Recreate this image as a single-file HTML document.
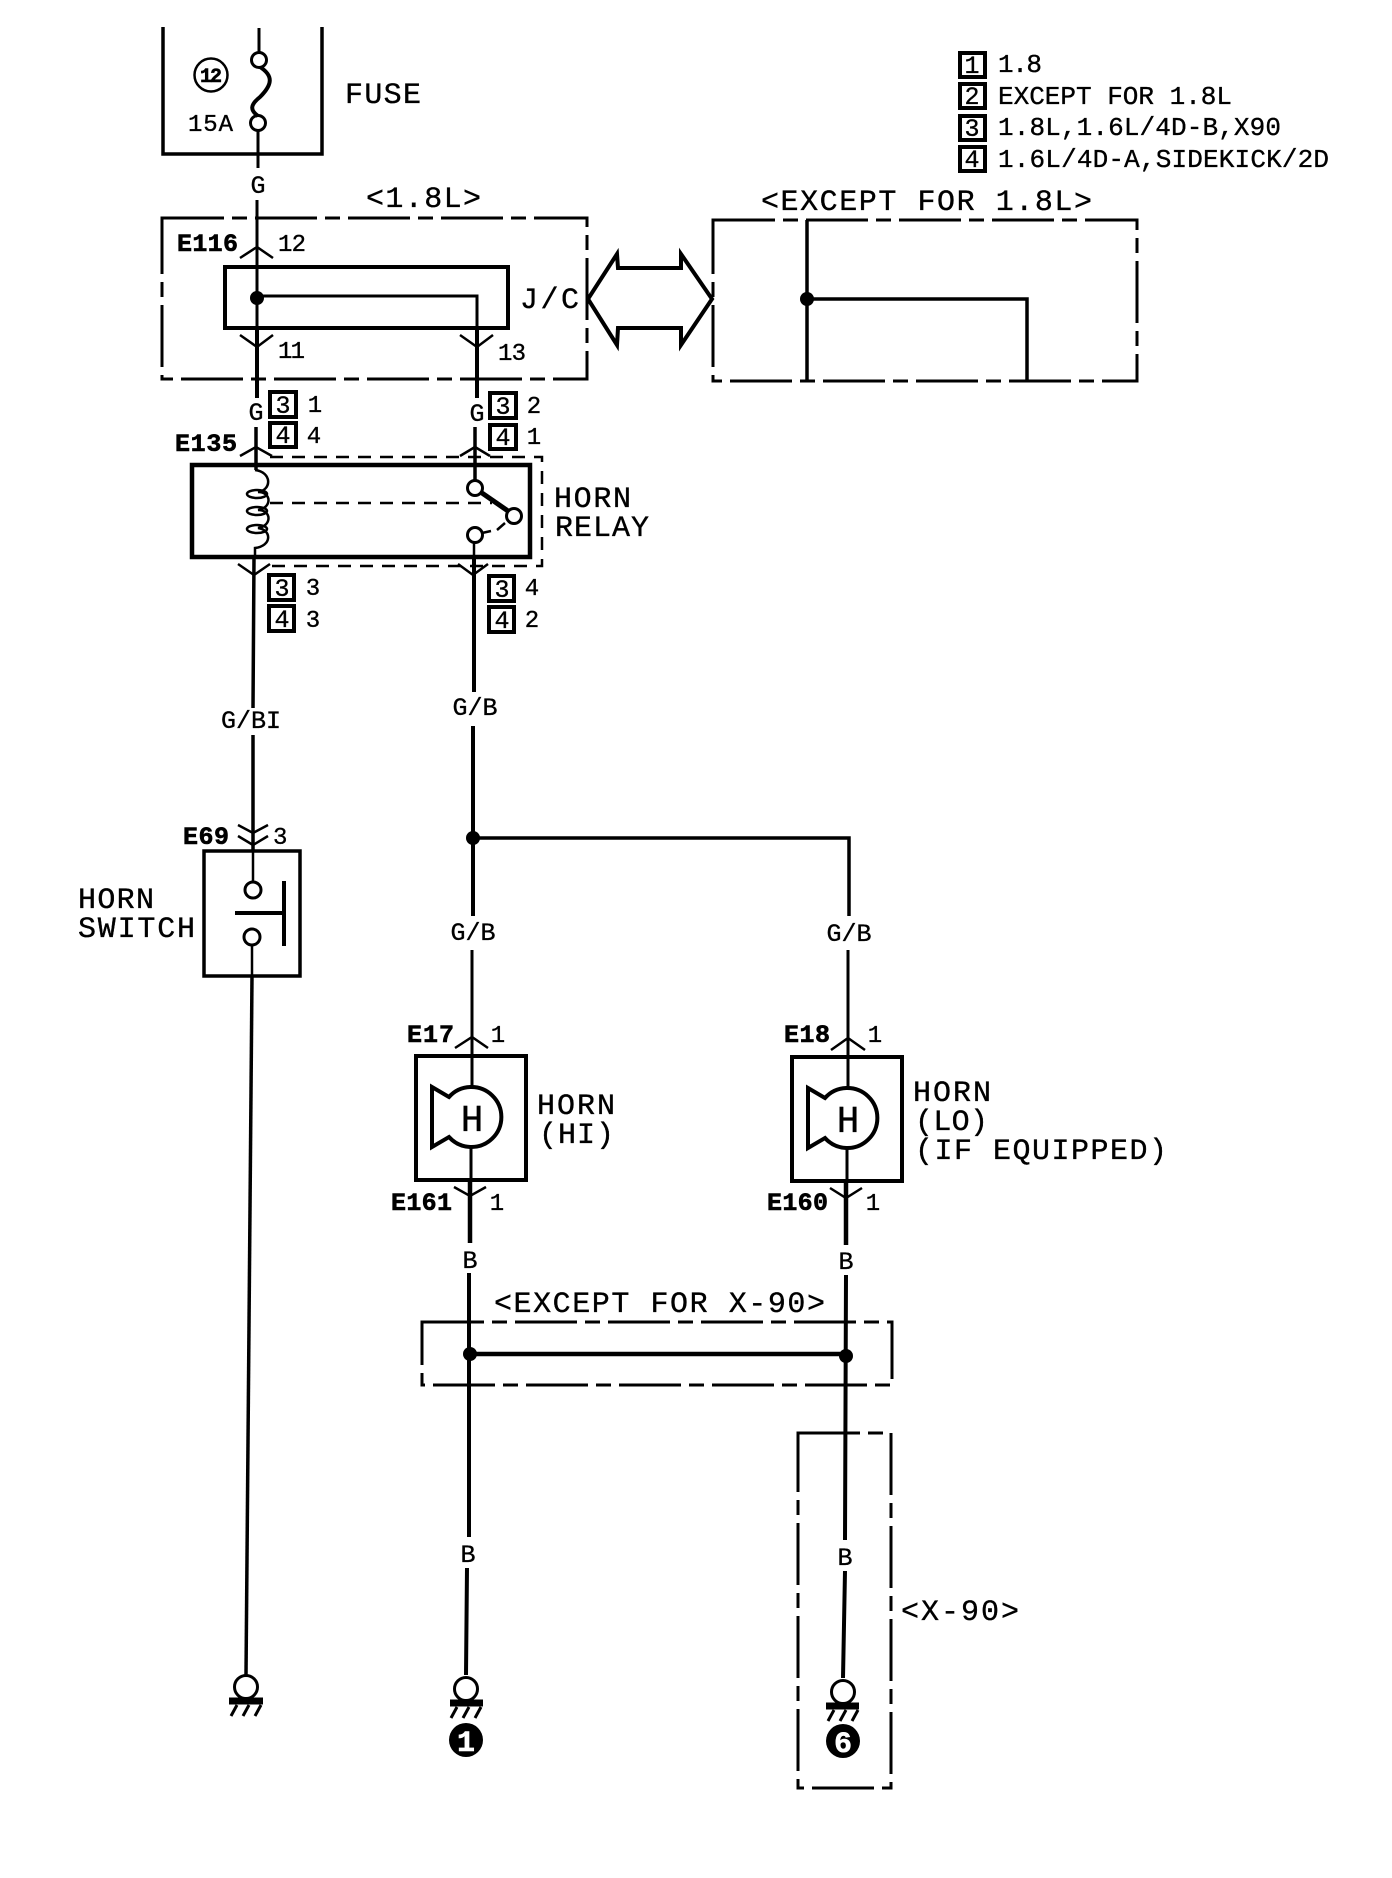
<!DOCTYPE html>
<html>
<head>
<meta charset="utf-8">
<style>
html,body{margin:0;padding:0;background:#fff}
svg{display:block}
text{font-family:"Liberation Mono",monospace;fill:#000;stroke:#000;stroke-width:.35}
.b{font-weight:bold;stroke-width:.6}
.m{text-anchor:middle}
</style>
</head>
<body>
<svg width="1392" height="1878" viewBox="0 0 1392 1878" xmlns="http://www.w3.org/2000/svg">
<rect width="1392" height="1878" fill="#fff"/>

<g fill="none" stroke="#000" stroke-width="3">
<!-- fuse -->
<path d="M163,27 V154 H322 V27" stroke-width="3.5"/>
<path d="M259,28 V53 M258,131 V168"/>
<circle cx="259" cy="60" r="7.5"/>
<circle cx="258" cy="123" r="7.5"/>
<path d="M260,67 C274,76 272,85 260,97 C250,105 250,110 258,116" stroke-width="4"/>
<circle cx="211" cy="75" r="16.5" stroke-width="2.5"/>

<!-- dash boxes -->
<g stroke-dasharray="62 8 15 8" stroke-width="3">
<rect x="162" y="218" width="425" height="161"/>
<rect x="713" y="220" width="424" height="161"/>
<rect x="422" y="1322" width="470" height="63"/>
<rect x="798" y="1433" width="93" height="355"/>
</g>

<!-- J/C -->
<rect x="225" y="267" width="283" height="61" stroke-width="4"/>
<path d="M257,200 V330" stroke-width="3"/>
<path d="M257,296 H477 V330" stroke-width="3"/>
<path d="M257,330 V398 M477,330 V398" stroke-width="4"/>
<path d="M240,258 L257,247 L273,258 M240,335 L257,347 L273,335 M460,335 L477,347 L493,335" stroke-width="2.5"/>

<!-- double arrow -->
<path d="M588,299 L617,254 L618,268 H681 L681,254 L712,299 L681,345 L681,328 H618 L617,345 Z" stroke-width="4"/>

<!-- except wiring -->
<path d="M807,220 V381 M807,299 H1027 V381" stroke-width="3.5"/>

<!-- relay -->
<rect x="192" y="465" width="338" height="92" stroke-width="4.5"/>
<path d="M270,457 H542 V566 H270" stroke-dasharray="13 9" stroke-width="2.5"/>
<path d="M256,427 V470 M475,427 V481" stroke-width="3.5"/>
<path d="M255,470 C272,472 272,490 258,492 C272,492 272,508 258,510 C272,510 272,526 258,528 C272,530 272,546 255,548 V557" stroke-width="2.5"/>
<ellipse cx="257" cy="494" rx="10" ry="4" stroke-width="2.5"/>
<ellipse cx="257" cy="511" rx="10" ry="4" stroke-width="2.5"/>
<ellipse cx="257" cy="529" rx="10" ry="4" stroke-width="2.5"/>
<path d="M270,503 H492" stroke-dasharray="13 9" stroke-width="2.5"/>
<circle cx="475" cy="488" r="7.5"/>
<circle cx="514" cy="516" r="7.5"/>
<circle cx="475" cy="535" r="7.5"/>
<path d="M482,493 L508,511" stroke-width="5"/>
<path d="M482,533 L491,531 M497,530 L505,523" stroke-width="2.5"/>
<path d="M474,543 V557" stroke-width="2.5"/>
<path d="M240,456 L256,447 L272,456 M460,456 L475,447 L490,456 M238,564 L254,575 L270,564 M458,564 L473,575 L488,564" stroke-width="2.5"/>

<!-- wires relay down -->
<path d="M254,557 L253,708 M253,735 V851" stroke-width="3.5"/>
<path d="M474,557 V692 M473,726 V916" stroke-width="4"/>
<path d="M473,838 H849 V916" stroke-width="3.5"/>
<path d="M238,825 L253,833 L268,825 M238,836 L253,845 L268,836" stroke-width="2.5"/>

<!-- horn switch -->
<rect x="204" y="851" width="96" height="125" stroke-width="3.5"/>
<path d="M253,851 V882" stroke-width="2.5"/>
<circle cx="253" cy="890" r="8"/>
<circle cx="252" cy="937" r="8"/>
<path d="M235,913 H284 M284,881 V946" stroke-width="4"/>
<path d="M252,945 V976" stroke-width="2.5"/>
<path d="M252,976 L246,1675" stroke-width="3.5"/>

<!-- horns -->
<rect x="416" y="1056" width="110" height="124" stroke-width="4"/>
<path d="M472,950 V1087 M471,1147 V1180" stroke-width="3"/>
<path d="M470,1180 V1243" stroke-width="4.5"/>
<path d="M455,1048 L472,1037 L488,1048 M454,1187 L470,1196 L486,1187" stroke-width="2.5"/>
<path d="M449,1097 L432,1087 V1147 L449,1137 A30,30 0 1,0 449,1097 Z" stroke-width="4"/>

<rect x="792" y="1057" width="110" height="124" stroke-width="4"/>
<path d="M848,950 V1088 M847,1148 V1181" stroke-width="3"/>
<path d="M846,1181 V1245" stroke-width="4.5"/>
<path d="M831,1050 L848,1038 L865,1050 M830,1188 L846,1198 L862,1188" stroke-width="2.5"/>
<path d="M825,1098 L808,1088 V1148 L825,1138 A30,30 0 1,0 825,1098 Z" stroke-width="4"/>

<!-- bottom wires -->
<path d="M469,1273 V1537 M467,1568 L466,1675" stroke-width="4"/>
<path d="M846,1275 L845,1540 M845,1571 L843,1678" stroke-width="4"/>
<path d="M470,1354 H846" stroke-width="4.5"/>

<!-- grounds -->
<circle cx="246" cy="1687" r="11.5"/>
<path d="M229,1701 H263" stroke-width="7"/>
<path d="M237,1705 L231,1716 M249,1705 L243,1716 M261,1705 L255,1716"/>
<circle cx="466" cy="1689" r="11.5"/>
<path d="M450,1703 H483" stroke-width="7"/>
<path d="M457,1707 L451,1718 M469,1707 L463,1718 M481,1707 L475,1718"/>
<circle cx="843" cy="1692" r="11.5"/>
<path d="M826,1706 H859" stroke-width="7"/>
<path d="M834,1710 L828,1721 M846,1710 L840,1721 M858,1710 L852,1721"/>

<!-- legend and numbered boxes -->
<g stroke-width="4">
<rect x="960" y="53" width="25" height="24"/>
<rect x="960" y="84" width="25" height="24"/>
<rect x="960" y="116" width="25" height="24"/>
<rect x="960" y="147" width="25" height="24"/>
<rect x="270" y="392" width="26" height="25"/>
<rect x="490" y="393" width="26" height="25"/>
<rect x="270" y="423" width="26" height="24"/>
<rect x="490" y="425" width="26" height="24"/>
<rect x="269" y="575" width="25" height="25"/>
<rect x="269" y="606" width="25" height="25"/>
<rect x="489" y="576" width="25" height="25"/>
<rect x="489" y="607" width="25" height="25"/>
</g>
</g>

<!-- dots -->
<g fill="#000">
<circle cx="257" cy="298" r="7"/>
<circle cx="807" cy="299" r="7"/>
<circle cx="473" cy="838" r="7"/>
<circle cx="470" cy="1354" r="7"/>
<circle cx="846" cy="1356" r="7"/>
<circle cx="466" cy="1740" r="17"/>
<circle cx="843" cy="1741" r="17"/>
</g>
<text class="b m" x="466" y="1751" font-size="30" style="fill:#fff;stroke:#fff">1</text>
<text class="b m" x="843" y="1752" font-size="30" style="fill:#fff;stroke:#fff">6</text>

<!-- text -->
<text class="b m" x="211" y="82" font-size="20" textLength="22">12</text>
<text x="188" y="131" font-size="24" textLength="45">15A</text>
<text x="345" y="103" font-size="30" textLength="76">FUSE</text>
<text class="m" x="258" y="193" font-size="25">G</text>
<text x="366" y="207" font-size="30" textLength="115">&lt;1.8L&gt;</text>
<text x="761" y="210" font-size="30" textLength="331">&lt;EXCEPT FOR 1.8L&gt;</text>
<text class="b" x="177" y="251" font-size="25" textLength="61">E116</text>
<text x="278" y="251" font-size="24" textLength="28">12</text>
<text x="278" y="358" font-size="24" textLength="27">11</text>
<text x="498" y="360" font-size="24" textLength="28">13</text>
<text x="520" y="308" font-size="30" textLength="59">J/C</text>

<text class="m" x="256" y="420" font-size="25">G</text>
<text class="m" x="477" y="421" font-size="25">G</text>
<text class="m" x="283" y="413" font-size="25">3</text>
<text class="m" x="503" y="414" font-size="25">3</text>
<text class="m" x="283" y="443" font-size="25">4</text>
<text class="m" x="503" y="445" font-size="25">4</text>
<text class="m" x="282" y="596" font-size="25">3</text>
<text class="m" x="282" y="627" font-size="25">4</text>
<text class="m" x="502" y="597" font-size="25">3</text>
<text class="m" x="502" y="628" font-size="25">4</text>
<text class="m" x="315" y="412" font-size="24">1</text>
<text class="m" x="534" y="413" font-size="24">2</text>
<text class="m" x="314" y="443" font-size="24">4</text>
<text class="m" x="534" y="444" font-size="24">1</text>
<text class="m" x="313" y="595" font-size="24">3</text>
<text class="m" x="313" y="627" font-size="24">3</text>
<text class="m" x="532" y="595" font-size="24">4</text>
<text class="m" x="532" y="627" font-size="24">2</text>
<text class="b" x="175" y="451" font-size="25" textLength="62">E135</text>
<text x="554" y="507" font-size="30" textLength="77">HORN</text>
<text x="555" y="536" font-size="30" textLength="94">RELAY</text>

<text x="221" y="728" font-size="25" textLength="60">G/BI</text>
<text class="m" x="475" y="715" font-size="25">G/B</text>
<text class="m" x="473" y="940" font-size="25">G/B</text>
<text class="m" x="849" y="941" font-size="25">G/B</text>

<text class="b" x="183" y="844" font-size="25" textLength="46">E69</text>
<text x="273" y="844" font-size="24" textLength="13">3</text>
<text x="78" y="908" font-size="30" textLength="76">HORN</text>
<text x="78" y="937" font-size="30" textLength="117">SWITCH</text>

<text class="b" x="407" y="1042" font-size="25" textLength="47">E17</text>
<text class="m" x="498" y="1042" font-size="24">1</text>
<text class="b" x="391" y="1210" font-size="25" textLength="61">E161</text>
<text class="m" x="497" y="1210" font-size="24">1</text>
<text class="m" x="472" y="1131" font-size="38">H</text>
<text x="537" y="1114" font-size="30" textLength="78">HORN</text>
<text x="539" y="1143" font-size="30" textLength="75">(HI)</text>

<text class="b" x="784" y="1042" font-size="25" textLength="46">E18</text>
<text class="m" x="875" y="1042" font-size="24">1</text>
<text class="b" x="767" y="1210" font-size="25" textLength="61">E160</text>
<text class="m" x="873" y="1210" font-size="24">1</text>
<text class="m" x="848" y="1132" font-size="38">H</text>
<text x="913" y="1101" font-size="30" textLength="78">HORN</text>
<text x="915" y="1130" font-size="30" textLength="73">(LO)</text>
<text x="915" y="1159" font-size="30" textLength="252">(IF EQUIPPED)</text>

<text class="m" x="470" y="1268" font-size="25">B</text>
<text class="m" x="846" y="1269" font-size="25">B</text>
<text x="494" y="1312" font-size="30" textLength="331">&lt;EXCEPT FOR X-90&gt;</text>
<text class="m" x="468" y="1562" font-size="25">B</text>
<text class="m" x="845" y="1565" font-size="25">B</text>
<text x="901" y="1620" font-size="30" textLength="118">&lt;X-90&gt;</text>

<text class="m" x="972" y="73" font-size="25">1</text>
<text class="m" x="972" y="104" font-size="25">2</text>
<text class="m" x="972" y="136" font-size="25">3</text>
<text class="m" x="972" y="167" font-size="25">4</text>
<text x="998" y="72" font-size="26" textLength="44">1.8</text>
<text x="998" y="104" font-size="26" textLength="234">EXCEPT FOR 1.8L</text>
<text x="998" y="135" font-size="26" textLength="283">1.8L,1.6L/4D-B,X90</text>
<text x="998" y="167" font-size="26" textLength="331">1.6L/4D-A,SIDEKICK/2D</text>
</svg>
</body>
</html>
